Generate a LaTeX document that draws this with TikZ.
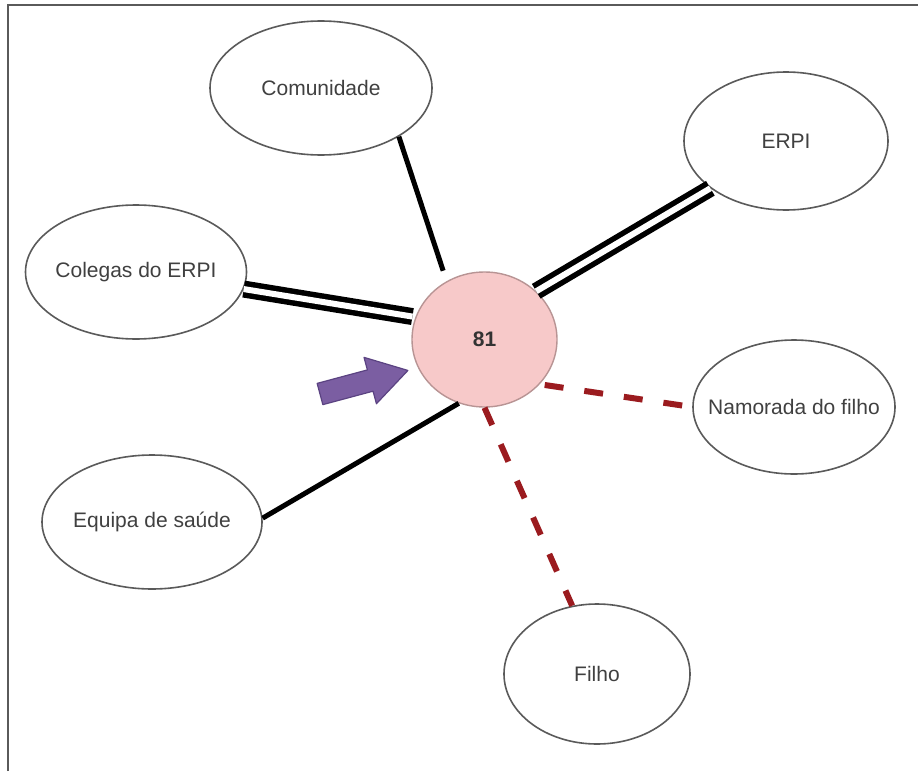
\documentclass[tikz,border=0pt]{standalone}
\usepackage{fontspec}
\setmainfont{Liberation Sans}
\usetikzlibrary{shapes.geometric}

\definecolor{rim}{HTML}{5A5A5A}
\definecolor{ink}{HTML}{404040}
\definecolor{tie}{HTML}{9B1B1F}
\definecolor{egofill}{HTML}{F7C9C9}
\definecolor{egorim}{HTML}{B89494}
\definecolor{pointer}{HTML}{7B5EA2}
\definecolor{pointerrim}{HTML}{5B4382}

\tikzset{
  member/.style={ellipse, draw=rim, line width=1.6pt, fill=white,
                 inner xsep=-20pt, inner ysep=0pt,
                 text=ink, font=\fontsize{21}{24}\selectfont},
  ego/.style={ellipse, draw=egorim, line width=1.4pt, fill=egofill, inner sep=0pt,
              text=black!80, font=\fontsize{21}{24}\selectfont\bfseries},
  plain/.style={line width=5pt, black},
  strong/.style={line width=5.5pt, black, double=white, double distance=6pt},
  fragile/.style={line width=6pt, tie, dash pattern=on 19pt off 21pt},
}

\begin{document}
\begin{tikzpicture}[x=1pt, y=-1pt]
  \useasboundingbox (0,0) rectangle (918,771);
  \fill[white] (0,0) rectangle (918,771);

  % frame (top and left edges only)
  \draw[rim, line width=2pt] (8,771) -- (8,5) -- (918,5);

  % network members
  \node[member, minimum width=222pt, minimum height=134pt] (com)  at (321,88)   {Comunidade};
  \node[member, minimum width=204pt, minimum height=138pt] (erpi) at (786,141)  {ERPI};
  \node[member, minimum width=221pt, minimum height=134pt] (col)  at (136,272)  {Colegas do ERPI};
  \node[member, minimum width=220pt, minimum height=134pt] (equ)  at (152,522)  {Equipa de saúde};
  \node[member, minimum width=202pt, minimum height=134pt] (nam)  at (794,407)  {Namorada do filho};
  \node[member, minimum width=186pt, minimum height=140pt] (fil)  at (597,674)  {Filho};

  % focal person
  \node[ego, minimum width=145pt, minimum height=135pt] (c) at (484.5,339.5) {81};

  % ties
  \draw[plain, shorten >=11pt] (com.-32.5) -- (c.123);
  \draw[strong, shorten >=3pt] (col.-9.5) -- (c.162);
  \draw[strong] (erpi.212) -- (c.43);
  \draw[plain] (equ.2) -- (c.248);
  \draw[fragile, shorten <=5pt] (c.-39) -- (nam.180);
  \draw[fragile] (c.270) -- (fil.110);

  % pointer arrow
  \begin{scope}[shift={(320,394)}, rotate=15]
    \filldraw[fill=pointer, draw=pointerrim, line width=1.2pt, line join=round]
      (0,11) -- (52,11) -- (52,24) -- (91,0) -- (52,-24) -- (52,-11) -- (0,-11) -- cycle;
  \end{scope}
\end{tikzpicture}
\end{document}
